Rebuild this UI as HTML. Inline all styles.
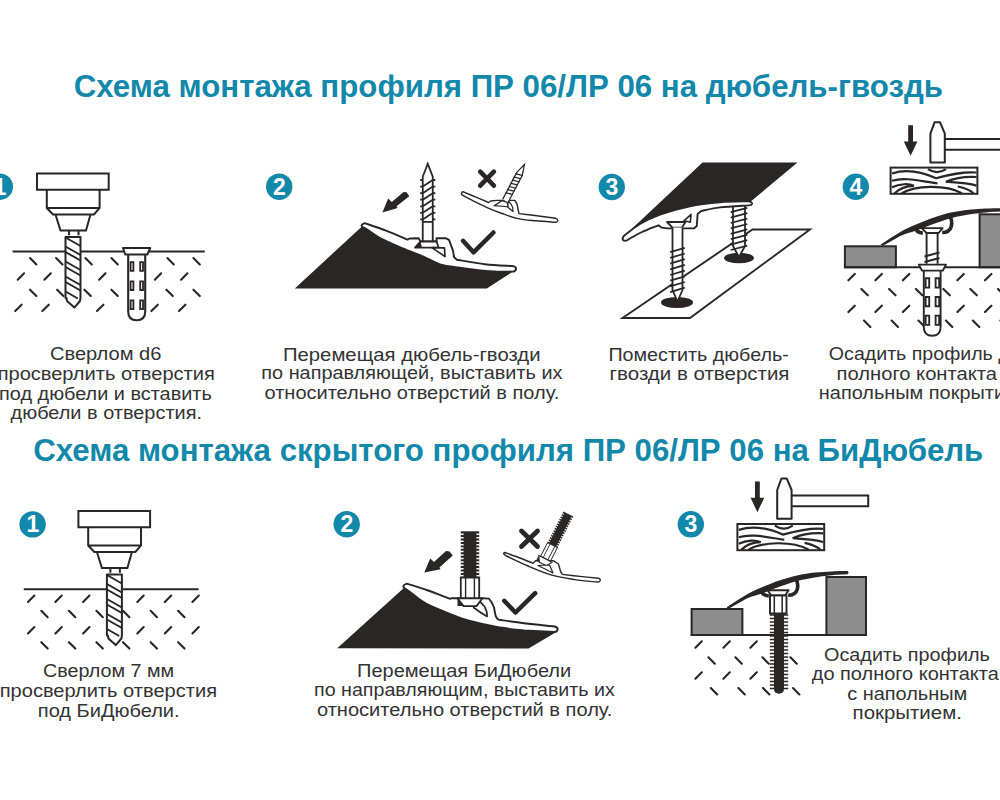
<!DOCTYPE html>
<html><head><meta charset="utf-8"><style>
html,body{margin:0;padding:0;background:#fff;width:1000px;height:800px;overflow:hidden}
svg{display:block;font-family:"Liberation Sans",sans-serif}
</style></head><body>
<svg width="1000" height="800" viewBox="0 0 1000 800">
<text x="73.67" y="97.4" textLength="869.31" lengthAdjust="spacingAndGlyphs" font-size="30.5" font-weight="bold" fill="#1288ab">Схема монтажа профиля ПР 06/ЛР 06 на дюбель-гвоздь</text>
<text x="33.17" y="460.6" textLength="950.12" lengthAdjust="spacingAndGlyphs" font-size="30.5" font-weight="bold" fill="#1288ab">Схема монтажа скрытого профиля ПР 06/ЛР 06 на БиДюбель</text>
<circle cx="-0.2" cy="186.7" r="13.2" fill="#1288ab"/>
<text x="0" y="194.6" text-anchor="middle" font-size="23" font-weight="bold" fill="#fff">1</text>
<circle cx="279.2" cy="186.7" r="13.2" fill="#1288ab"/>
<text x="279.4" y="194.6" text-anchor="middle" font-size="23" font-weight="bold" fill="#fff">2</text>
<circle cx="611.8" cy="187" r="13.2" fill="#1288ab"/>
<text x="612" y="194.9" text-anchor="middle" font-size="23" font-weight="bold" fill="#fff">3</text>
<circle cx="855.8" cy="186.75" r="13.2" fill="#1288ab"/>
<text x="856" y="194.65" text-anchor="middle" font-size="23" font-weight="bold" fill="#fff">4</text>
<circle cx="32.6" cy="524.4" r="13.2" fill="#1288ab"/>
<text x="32.8" y="532.3" text-anchor="middle" font-size="23" font-weight="bold" fill="#fff">1</text>
<circle cx="346.7" cy="524.2" r="13.2" fill="#1288ab"/>
<text x="346.9" y="532.1" text-anchor="middle" font-size="23" font-weight="bold" fill="#fff">2</text>
<circle cx="690.8" cy="524.3" r="13.2" fill="#1288ab"/>
<text x="691" y="532.2" text-anchor="middle" font-size="23" font-weight="bold" fill="#fff">3</text>
<text x="49.93" y="360.3" textLength="111.49" lengthAdjust="spacingAndGlyphs" font-size="18.7" fill="#333333">Сверлом d6</text>
<text x="-2.39" y="379.8" textLength="217.17" lengthAdjust="spacingAndGlyphs" font-size="18.7" fill="#333333">просверлить отверстия</text>
<text x="-0.98" y="399.5" textLength="212.78" lengthAdjust="spacingAndGlyphs" font-size="18.7" fill="#333333">под дюбели и вставить</text>
<text x="10.59" y="419.2" textLength="191.38" lengthAdjust="spacingAndGlyphs" font-size="18.7" fill="#333333">дюбели в отверстия.</text>
<text x="282.97" y="360.6" textLength="257.5" lengthAdjust="spacingAndGlyphs" font-size="18.7" fill="#333333">Перемещая дюбель-гвозди</text>
<text x="261.32" y="379.4" textLength="301.1" lengthAdjust="spacingAndGlyphs" font-size="18.7" fill="#333333">по направляющей, выставить их</text>
<text x="264.54" y="398.6" textLength="294.66" lengthAdjust="spacingAndGlyphs" font-size="18.7" fill="#333333">относительно отверстий в полу.</text>
<text x="608.42" y="361" textLength="180.48" lengthAdjust="spacingAndGlyphs" font-size="18.7" fill="#333333">Поместить дюбель-</text>
<text x="609.58" y="380" textLength="179.9" lengthAdjust="spacingAndGlyphs" font-size="18.7" fill="#333333">гвозди в отверстия</text>
<text x="828.86" y="360.4" textLength="191.7" lengthAdjust="spacingAndGlyphs" font-size="18.7" fill="#333333">Осадить профиль до</text>
<text x="836.6" y="379.8" textLength="176.05" lengthAdjust="spacingAndGlyphs" font-size="18.7" fill="#333333">полного контакта с</text>
<text x="818.82" y="399.2" textLength="210.98" lengthAdjust="spacingAndGlyphs" font-size="18.7" fill="#333333">напольным покрытием</text>
<text x="42.95" y="677" textLength="131.09" lengthAdjust="spacingAndGlyphs" font-size="18.7" fill="#333333">Сверлом 7 мм</text>
<text x="-0.29" y="696.8" textLength="217.27" lengthAdjust="spacingAndGlyphs" font-size="18.7" fill="#333333">просверлить отверстия</text>
<text x="37.81" y="716.6" textLength="141.77" lengthAdjust="spacingAndGlyphs" font-size="18.7" fill="#333333">под БиДюбели.</text>
<text x="356.99" y="676.6" textLength="214.25" lengthAdjust="spacingAndGlyphs" font-size="18.7" fill="#333333">Перемещая БиДюбели</text>
<text x="314.03" y="695.8" textLength="300.86" lengthAdjust="spacingAndGlyphs" font-size="18.7" fill="#333333">по направляющим, выставить их</text>
<text x="316.94" y="715.8" textLength="295.47" lengthAdjust="spacingAndGlyphs" font-size="18.7" fill="#333333">относительно отверстий в полу.</text>
<text x="824.05" y="661" textLength="165.76" lengthAdjust="spacingAndGlyphs" font-size="18.7" fill="#333333">Осадить профиль</text>
<text x="811.79" y="680" textLength="187.03" lengthAdjust="spacingAndGlyphs" font-size="18.7" fill="#333333">до полного контакта</text>
<text x="847.15" y="700" textLength="120.2" lengthAdjust="spacingAndGlyphs" font-size="18.7" fill="#333333">с напольным</text>
<text x="852.58" y="719" textLength="109.29" lengthAdjust="spacingAndGlyphs" font-size="18.7" fill="#333333">покрытием.</text>
<path d="M12.6 251.5L204.8 251.5" fill="none" stroke="#2a2625" stroke-width="2" stroke-linecap="butt" stroke-linejoin="miter"/>
<path d="M30 258L36.4 264.4M56.1 258L62.5 264.4M85.4 258L91.8 264.4M111.4 258L117.8 264.4M167.4 258L173.8 264.4M193.4 258L199.8 264.4M17.7 279.75L24.1 273.35M44.4 279.75L50.8 273.35M99.1 279.75L105.5 273.35M154.8 279.75L161.2 273.35M181.1 279.75L187.5 273.35M30 289.7L36.4 296.1M57.1 289.7L63.5 296.1M84.4 289.7L90.8 296.1M111.4 289.7L117.8 296.1M166.4 289.7L172.8 296.1M193.4 289.7L199.8 296.1M15.2 311.1L21.6 304.7M42.4 311.1L48.8 304.7M97 311.1L103.4 304.7M151.4 311.1L157.8 304.7M179 311.1L185.4 304.7" fill="none" stroke="#2a2625" stroke-width="2.1" stroke-linecap="round"/>
<path d="M37 173.5L108.7 173.5L108.7 189.7L37 189.7Z" fill="none" stroke="#2a2625" stroke-width="2" stroke-linecap="butt" stroke-linejoin="miter"/>
<path d="M46.8 189.7L46.8 208L53 214.5L94 214.5L99.6 208L99.6 189.7M46.8 208L99.6 208" fill="none" stroke="#2a2625" stroke-width="2" stroke-linecap="butt" stroke-linejoin="miter"/>
<path d="M55.5 214.5L60.5 230.5L86 230.5L90.5 214.5" fill="none" stroke="#2a2625" stroke-width="2" stroke-linecap="butt" stroke-linejoin="miter"/>
<path d="M69 230.5L69 235.2M78.5 230.5L78.5 235.2" fill="none" stroke="#2a2625" stroke-width="2" stroke-linecap="butt" stroke-linejoin="miter"/>
<path d="M65.5 237L80.5 237L80.5 298L80 301L74.4 307.6L67 301L66.5 298L65.5 298Z" fill="#fff" stroke="#2a2625" stroke-width="2" stroke-linejoin="round"/>
<path d="M65.5 237.5L80.5 246M65.5 246.5L80.5 255M65.5 252L80.5 260.5M65.5 261.5L80.5 270M65.5 267L80.5 275.5M65.5 276.5L80.5 285M65.5 282L80.5 290.5M65.5 291.5L77.85 298.5" fill="none" stroke="#2a2625" stroke-width="2.0" stroke-linecap="butt" stroke-linejoin="miter"/>
<path d="M128.2 254.5L128.2 311.5Q128.2 320.2 136.7 320.2Q145.2 320.2 145.2 311.5L145.2 254.5" fill="#fff" stroke="#2a2625" stroke-width="2.1"/>
<path d="M123 248L150.2 248L147.4 254.5L125.3 254.5Z" fill="#fff" stroke="#2a2625" stroke-width="2" stroke-linejoin="round"/>
<path d="M130.6 262.2L133.4 262.2L133.4 270.9L130.6 270.9ZM140.2 262.2L143 262.2L143 270.9L140.2 270.9ZM130.6 281.3L133.4 281.3L133.4 290L130.6 290ZM140.2 281.3L143 281.3L143 290L140.2 290ZM130.6 300.4L133.4 300.4L133.4 309.1L130.6 309.1ZM140.2 300.4L143 300.4L143 309.1L140.2 309.1Z" fill="none" stroke="#2a2625" stroke-width="1.8" stroke-linecap="butt" stroke-linejoin="miter"/>
<path d="M294.8 288.4L362.5 226L362.5 227C363.42 227.5 364.92 228.07 368 230C371.08 231.93 375.2 235.53 381 238.6C386.8 241.67 395.57 245.33 402.8 248.4C410.03 251.47 418.2 254.33 424.4 257C430.6 259.67 434.4 262.67 440 264.4C445.6 266.13 451.25 266.4 458 267.4C464.75 268.4 474.17 269.72 480.5 270.4C486.83 271.08 490.75 271.23 496 271.5C501.25 271.77 509.33 271.92 512 272L511.5 272.6L486.8 288.4Z" fill="#2a2625"/>
<path d="M364.5 223.1C368.08 224.35 378.82 227.85 386 230.6C393.18 233.35 404 238.1 407.6 239.6L409.6 238.5L418.6 238.3L420.4 241.5L436.6 241.5L436.6 238.3L445.4 238.1L449 239.9L453 250.7L454 257L456.7 259.7L456.7 259.7C461.42 260.45 475.78 263.15 485 264.2C494.22 265.25 507.5 265.7 512 266Q516.5 266.5 516 269Q515.5 271.8 512 271.6L496 271.5C493.42 271.32 486.83 271.08 480.5 270.4C474.17 269.72 464.75 268.4 458 267.4C451.25 266.4 445.6 266.13 440 264.4C434.4 262.67 430.6 259.67 424.4 257C418.2 254.33 410.03 251.47 402.8 248.4C395.57 245.33 386.8 241.67 381 238.6C375.2 235.53 371.08 231.93 368 230C364.92 228.07 363.42 227.5 362.5 227Q360 225 364.5 223.1Z" fill="#fff" stroke="#2a2625" stroke-width="1.9" stroke-linejoin="round"/>
<path d="M415 247.6L420.4 241.5L436.6 241.5L438.5 247.6Z" fill="#fff" stroke="#2a2625" stroke-width="1.8" stroke-linejoin="round"/>
<path d="M415 247.6L420.4 241.5L422 247.6Z" fill="#2a2625"/>
<path d="M431.8 247.6L444.4 247.8L445 256.5Q440 253 431.8 247.6Z" fill="#fff" stroke="#2a2625" stroke-width="1.7" stroke-linejoin="round"/>
<g transform="translate(427.75 163.75) rotate(0) scale(1)"><path d="M-5 13L0 0L5 13L5 77.5M-5 77.5L-5 13M-7.6 16.25L-5 16.25M5 16.25L7.6 16.25M-5 22.82L5 16.25M-7.6 22.82L-5 22.82M5 22.82L7.6 22.82M-5 29.39L5 22.82M-7.6 29.39L-5 29.39M5 29.39L7.6 29.39M-5 35.96L5 29.39M-7.6 35.96L-5 35.96M5 35.96L7.6 35.96M-5 42.53L5 35.96M-7.6 42.53L-5 42.53M5 42.53L7.6 42.53M-5 49.1L5 42.53M-7.6 49.1L-5 49.1M5 49.1L7.6 49.1M-5 55.67L5 49.1M-7.6 55.67L-5 55.67M5 55.67L7.6 55.67M-5 58.15L5 58.15" fill="none" stroke="#2a2625" stroke-width="1.8"/></g>
<path d="M406.5 192.2L409.3 196.2L396.5 206.3L397.6 207.9L382.4 212.6L388.1 198.6L391.8 202L403.6 191.9Z" fill="#2a2625"/>
<path d="M463 240.8L473.5 252.3L493.5 232.5" fill="none" stroke="#2a2625" stroke-width="4.5" stroke-linecap="round" stroke-linejoin="round"/>
<path d="M480.2 171.6L493.9 185.7M493.9 171.6L480.2 185.7" fill="none" stroke="#2a2625" stroke-width="4.6" stroke-linecap="round"/>
<path d="M463.4 191.9C465.5 192.78 471.8 195.43 476 197.2C480.2 198.97 486.5 201.62 488.6 202.5L490.7 201L497 200.4L514.9 200.4L517 204.1L519 213.6L519 213.6C522 213.97 530.87 215.02 537 215.8C543.13 216.58 552.67 217.88 555.8 218.3Q558.2 219.2 557.6 220.9Q557 222.4 554.8 222.2L554.8 222.2C551.67 221.97 542.13 221.4 536 220.8C529.87 220.2 523.67 219.82 518 218.6C512.33 217.38 507.25 215.38 502 213.5C496.75 211.62 491.17 209.33 486.5 207.3C481.83 205.27 477.93 203.28 474 201.3C470.07 199.32 464.75 196.38 462.9 195.4Q460.8 194 461.8 192.6Q462.5 191.5 463.4 191.9Z" fill="#fff" stroke="#2a2625" stroke-width="1.4" stroke-linejoin="round"/>
<path d="M508.6 201.2Q511.5 204.5 512.7 207.4L513 211.5L507.2 206.7Z" fill="#fff" stroke="#2a2625" stroke-width="1.2" stroke-linejoin="round"/>
<g transform="translate(524.4 164.5) rotate(27.6)"><path d="M-3.1 10.5L0 0L3.1 10.5L3.1 41L-3.1 41Z" fill="#fff"/><path d="M-3.1 10.5L0 0L3.1 10.5L3.1 41M-3.1 41L-3.1 10.5M-3.9 12.4L3.9 10.6M-3.9 15.95L3.9 14.15M-3.9 19.5L3.9 17.7M-3.9 23.05L3.9 21.25M-3.9 26.6L3.9 24.8M-3.9 30.15L3.9 28.35M-3.9 33.7L3.9 31.9" fill="none" stroke="#2a2625" stroke-width="1.25"/></g>
<path d="M494.1 205.7L502 200.6L507.2 202.3L508.2 206.75Z" fill="#fff" stroke="#2a2625" stroke-width="1.25" stroke-linejoin="round"/>
<path d="M622.5 318L690 318L810 229.5L752.5 229.5Z" fill="none" stroke="#2a2625" stroke-width="1.9" stroke-linejoin="miter"/>
<ellipse cx="677" cy="302.5" rx="16" ry="5.6" fill="#2a2625"/>
<ellipse cx="739" cy="258" rx="15" ry="5.3" fill="#2a2625"/>
<path d="M733 203L733 246L739 257L745 246L745 203" fill="#fff" stroke="#2a2625" stroke-width="1.8" stroke-linejoin="round"/>
<path d="M730.7 212.2L747.3 207.8M730.7 217.6L747.3 213.2M730.7 223L747.3 218.6M730.7 228.4L747.3 224M730.7 233.8L747.3 229.4M730.7 239.2L747.3 234.8M730.7 244.6L747.3 240.2M730.7 250L747.3 245.6" fill="none" stroke="#2a2625" stroke-width="1.8"/>
<path d="M702.5 162.5L797.5 162.5L749.5 202.5L749 201.3C744.17 201.47 729.83 201.48 720 202.3C710.17 203.12 700 204.15 690 206.2C680 208.25 668.33 211.63 660 214.6C651.67 217.57 645.67 220.72 640 224C634.33 227.28 628.33 232.58 626 234.3Z" fill="#2a2625"/>
<path d="M626 234.3C628.33 232.58 634.33 227.28 640 224C645.67 220.72 651.67 217.57 660 214.6C668.33 211.63 680 208.25 690 206.2C700 204.15 710.17 203.12 720 202.3C729.83 201.48 744.17 201.47 749 201.3Q752.5 202.3 752 204Q751.5 205.5 748.5 205.4L748.5 205.4C743.75 205.73 727.87 206.47 720 207.4C712.13 208.33 704.42 210.4 701.3 211L697.6 214L696.8 226L693.8 228.4L667.5 228.4L661.5 227.6L658.5 225.3L658.5 225.3C655.58 226.5 646.25 230 641 232.5C635.75 235 629.33 239 627 240.3Q623 241.5 622.6 239Q622.5 236.5 626 234.3Z" fill="#fff" stroke="#2a2625" stroke-width="1.9" stroke-linejoin="round"/>
<path d="M684 220.8L691 214.3L690.3 222.3Z" fill="#fff" stroke="#2a2625" stroke-width="1.6" stroke-linejoin="round"/>
<path d="M667 222L685.5 222L682 227.6L672.5 227.6Z" fill="#fff" stroke="#2a2625" stroke-width="1.8" stroke-linejoin="round"/>
<path d="M672.5 227.6L672.5 290L677.5 301.5L682.5 290L682.5 227.6" fill="#fff" stroke="#2a2625" stroke-width="1.8" stroke-linejoin="round"/>
<path d="M670.2 252.2L684.8 247.8M670.2 257.9L684.8 253.5M670.2 263.6L684.8 259.2M670.2 269.3L684.8 264.9M670.2 275L684.8 270.6M670.2 280.7L684.8 276.3M670.2 286.4L684.8 282M670.2 292.1L684.8 287.7" fill="none" stroke="#2a2625" stroke-width="1.8"/>
<g transform="translate(0 0)"><path d="M908.2 125.2L913 125.2L913 141.4L917.4 141.4L910.6 155.8L903.8 141.4L908.2 141.4Z" fill="#2a2625"/><path d="M944.8 139L1010 139L1010 149.8L944.8 149.8" fill="#fff" stroke="#2a2625" stroke-width="2"/><path d="M930.4 162.4L930.4 133.6L934.6 122.2L940 122.2L944.8 133.6L944.8 162.4Z" fill="#fff" stroke="#2a2625" stroke-width="2" stroke-linejoin="round"/><rect x="890.6" y="167.6" width="86.8" height="26.2" fill="#fff" stroke="#2a2625" stroke-width="2"/><path d="M892 173.5C903 169.8 918 170.2 936 178.2C949 174.8 963 171.2 976.5 172.5M928 169.2Q937 175.2 946 169.2M892 180.8C905 176.8 920 181 937.5 183.3M945.8 181.8C955 178 967 176.3 976.5 177M945.8 181.8C957 182.5 968 183 976.5 185.6M892 187.3C900 183.5 909 183.5 914 185.8M894.5 193.2C900 188 907 186 914 185.8M901.5 193.5C915 185.2 945 184.2 962 193.2M957.8 186.5C965 188 970 190 973.5 193.2" fill="none" stroke="#2a2625" stroke-width="2.2"/></g>
<g transform="translate(-153.2 356.4)"><path d="M908.2 125.2L913 125.2L913 141.4L917.4 141.4L910.6 155.8L903.8 141.4L908.2 141.4Z" fill="#2a2625"/><path d="M944.8 139L1021.4 139L1021.4 149.8L944.8 149.8" fill="#fff" stroke="#2a2625" stroke-width="2"/><path d="M930.4 162.4L930.4 133.6L934.6 122.2L940 122.2L944.8 133.6L944.8 162.4Z" fill="#fff" stroke="#2a2625" stroke-width="2" stroke-linejoin="round"/><rect x="890.6" y="167.6" width="86.8" height="26.2" fill="#fff" stroke="#2a2625" stroke-width="2"/><path d="M892 173.5C903 169.8 918 170.2 936 178.2C949 174.8 963 171.2 976.5 172.5M928 169.2Q937 175.2 946 169.2M892 180.8C905 176.8 920 181 937.5 183.3M945.8 181.8C955 178 967 176.3 976.5 177M945.8 181.8C957 182.5 968 183 976.5 185.6M892 187.3C900 183.5 909 183.5 914 185.8M894.5 193.2C900 188 907 186 914 185.8M901.5 193.5C915 185.2 945 184.2 962 193.2M957.8 186.5C965 188 970 190 973.5 193.2" fill="none" stroke="#2a2625" stroke-width="2.2"/></g>
<path d="M848.4 280.3L854.8 273.9M875.4 280.3L881.8 273.9M902.9 280.3L909.3 273.9M957.4 280.3L963.8 273.9M985 280.3L991.4 273.9M861.4 288.95L867.8 295.35M889.1 288.95L895.5 295.35M915.9 288.95L922.3 295.35M943.4 288.95L949.8 295.35M970.4 288.95L976.8 295.35M998 288.95L1004.4 295.35M848.4 312.1L854.8 305.7M875.4 312.1L881.8 305.7M902.9 312.1L909.3 305.7M957.4 312.1L963.8 305.7M985 312.1L991.4 305.7M864 320.55L870.4 326.95M891.6 320.55L898 326.95M918.4 320.55L924.8 326.95M945.9 320.55L952.3 326.95M972.9 320.55L979.3 326.95M1000.4 320.55L1006.8 326.95" fill="none" stroke="#2a2625" stroke-width="2.1" stroke-linecap="round"/>
<rect x="844.9" y="246.3" width="51" height="21" fill="#8d8d8d" stroke="#2a2625" stroke-width="2"/>
<rect x="979.6" y="214.3" width="30" height="53" fill="#8d8d8d" stroke="#2a2625" stroke-width="2"/>
<path d="M844 267.2L1000 267.2" fill="none" stroke="#2a2625" stroke-width="2" stroke-linecap="butt" stroke-linejoin="miter"/>
<g transform="translate(154 -362.8)"><path d="M727 607C730.5 604.8 742.17 597.1 748 593.8C753.83 590.5 756.67 589.47 762 587.2C767.33 584.93 774.17 582.17 780 580.2C785.83 578.23 791.17 576.67 797 575.4C802.83 574.13 809.17 573.27 815 572.6C820.83 571.93 826.58 571.65 832 571.4C837.42 571.15 844.92 571.15 847.5 571.1Q849.5 572.7 847.5 574.3L847.5 574.3C844.92 574.45 836.92 574.77 832 575.2C827.08 575.63 823.83 575.93 818 576.9C812.17 577.87 804 579.15 797 581C790 582.85 781.83 585.92 776 588C770.17 590.08 766.67 591.83 762 593.5C757.33 595.17 753.42 595.53 748 598C742.58 600.47 732.58 606.58 729.5 608.3Q726 608.5 727 607Z" fill="#2a2625"/><path d="M760.8 589.5Q762 595.5 768.8 595.9M795 577.5Q799 583 797.2 589.5Q795.5 595.2 788.2 595.3" fill="none" stroke="#2a2625" stroke-width="3.6"/></g>
<path d="M926.6 232.5L926.6 263.7M937.6 232.5L937.6 263.7" fill="none" stroke="#2a2625" stroke-width="1.9"/>
<path d="M924.5 256.5L939.5 252.5M924.5 262L939.5 258" fill="none" stroke="#2a2625" stroke-width="1.9"/>
<path d="M921.6 228.1L942.6 228.1L938.6 233L926.6 233Z" fill="#fff" stroke="#2a2625" stroke-width="1.9" stroke-linejoin="round"/>
<path d="M923.8 270.5L923.8 327Q923.8 335.8 932.2 335.8Q940.6 335.8 940.6 327L940.6 270.5" fill="#fff" stroke="#2a2625" stroke-width="1.9"/>
<path d="M918.8 264.6L946 264.6L942.8 270.6L922 270.6Z" fill="#fff" stroke="#2a2625" stroke-width="1.9" stroke-linejoin="round"/>
<path d="M925.6 278.3L929.2 278.3L929.2 287.6L925.6 287.6ZM935.6 278.3L939.2 278.3L939.2 287.6L935.6 287.6ZM925.6 297L929.2 297L929.2 306.3L925.6 306.3ZM935.6 297L939.2 297L939.2 306.3L935.6 306.3ZM925.6 315.6L929.2 315.6L929.2 324.90000000000003L925.6 324.90000000000003ZM935.6 315.6L939.2 315.6L939.2 324.90000000000003L935.6 324.90000000000003Z" fill="none" stroke="#2a2625" stroke-width="1.9"/>
<path d="M695.4 647.7L701.8 641.3M723.4 647.7L729.8 641.3M750.4 647.7L756.8 641.3M708.4 657.3L714.8 663.7M735.4 657.3L741.8 663.7M762.4 657.3L768.8 663.7M790.4 657.3L796.8 663.7M695.4 678.7L701.8 672.3M723.4 678.7L729.8 672.3M750.4 678.7L756.8 672.3M710.8 688L717.2 694.4M738.4 688L744.8 694.4M763 688L769.4 694.4M793 688L799.4 694.4" fill="none" stroke="#2a2625" stroke-width="2.1" stroke-linecap="round"/>
<rect x="691.6" y="609" width="50.8" height="26" fill="#8d8d8d" stroke="#2a2625" stroke-width="2"/>
<rect x="826.4" y="577" width="39.6" height="58" fill="#8d8d8d" stroke="#2a2625" stroke-width="2"/>
<path d="M690.6 635L867 635" fill="none" stroke="#2a2625" stroke-width="2" stroke-linecap="butt" stroke-linejoin="miter"/>
<g transform="translate(0 0)"><path d="M727 607C730.5 604.8 742.17 597.1 748 593.8C753.83 590.5 756.67 589.47 762 587.2C767.33 584.93 774.17 582.17 780 580.2C785.83 578.23 791.17 576.67 797 575.4C802.83 574.13 809.17 573.27 815 572.6C820.83 571.93 826.58 571.65 832 571.4C837.42 571.15 844.92 571.15 847.5 571.1Q849.5 572.7 847.5 574.3L847.5 574.3C844.92 574.45 836.92 574.77 832 575.2C827.08 575.63 823.83 575.93 818 576.9C812.17 577.87 804 579.15 797 581C790 582.85 781.83 585.92 776 588C770.17 590.08 766.67 591.83 762 593.5C757.33 595.17 753.42 595.53 748 598C742.58 600.47 732.58 606.58 729.5 608.3Q726 608.5 727 607Z" fill="#2a2625"/><path d="M760.8 589.5Q762 595.5 768.8 595.9M795 577.5Q799 583 797.2 589.5Q795.5 595.2 788.2 595.3" fill="none" stroke="#2a2625" stroke-width="3.6"/></g>
<path d="M769.8 615L788.2 615M769.8 618.5L788.2 618.5M769.8 622L788.2 622M769.8 625.5L788.2 625.5M769.8 629L788.2 629M769.8 632.5L788.2 632.5M769.8 636L788.2 636M769.8 639.5L788.2 639.5M769.8 643L788.2 643M769.8 646.5L788.2 646.5M769.8 650L788.2 650M769.8 653.5L788.2 653.5M769.8 657L788.2 657M769.8 660.5L788.2 660.5M769.8 664L788.2 664M769.8 667.5L788.2 667.5M769.8 671L788.2 671M769.8 674.5L788.2 674.5M769.8 678L788.2 678M769.8 681.5L788.2 681.5M769.8 685L788.2 685M769.8 688.5L788.2 688.5" fill="none" stroke="#2a2625" stroke-width="1.6"/>
<path d="M774 612L784 612L784 688.6Q784 693.8 779 693.8Q774 693.8 774 688.6Z" fill="#2a2625"/>
<path d="M770 595.3L786.5 595.3L786.5 613.5L770 613.5Z" fill="#fff" stroke="#2a2625" stroke-width="1.9"/>
<path d="M774.3 595.3L774.3 613.5M782.2 595.3L782.2 613.5" fill="none" stroke="#2a2625" stroke-width="1.5"/>
<path d="M767.6 590.2L788.6 590.2L785.1 595.3L771.1 595.3Z" fill="#fff" stroke="#2a2625" stroke-width="1.9" stroke-linejoin="round"/>
<path d="M23.8 589.3L198.6 589.3" fill="none" stroke="#2a2625" stroke-width="2" stroke-linecap="butt" stroke-linejoin="miter"/>
<path d="M28 602L34.4 595.6M55.4 602L61.8 595.6M83.1 602L89.5 595.6M137.3 602L143.7 595.6M164.8 602L171.2 595.6M192.4 602L198.8 595.6M41.3 610.8L47.7 617.2M68.9 610.8L75.3 617.2M96.4 610.8L102.8 617.2M123 610.8L129.4 617.2M150.6 610.8L157 617.2M178.1 610.8L184.5 617.2M28 633.4L34.4 627M55.4 633.4L61.8 627M83.1 633.4L89.5 627M137.3 633.4L143.7 627M164.8 633.4L171.2 627M192.4 633.4L198.8 627M41.3 642.15L47.7 648.55M68.9 642.15L75.3 648.55M96.4 642.15L102.8 648.55M123 642.15L129.4 648.55M150.6 642.15L157 648.55M178.1 642.15L184.5 648.55" fill="none" stroke="#2a2625" stroke-width="2.1" stroke-linecap="round"/>
<path d="M78.4 511L150.1 511L150.1 527.2L78.4 527.2Z" fill="none" stroke="#2a2625" stroke-width="2" stroke-linecap="butt" stroke-linejoin="miter"/>
<path d="M88.2 527.2L88.2 545.5L94.4 552L135.4 552L141 545.5L141 527.2M88.2 545.5L141 545.5" fill="none" stroke="#2a2625" stroke-width="2" stroke-linecap="butt" stroke-linejoin="miter"/>
<path d="M96.9 552L101.9 568L127.4 568L131.9 552" fill="none" stroke="#2a2625" stroke-width="2" stroke-linecap="butt" stroke-linejoin="miter"/>
<path d="M110.4 568L110.4 572.7M119.9 568L119.9 572.7" fill="none" stroke="#2a2625" stroke-width="2" stroke-linecap="butt" stroke-linejoin="miter"/>
<path d="M106.9 574.5L121.9 574.5L121.9 635.5L121.4 638.5L115.8 645.1L108.4 638.5L107.9 635.5L106.9 635.5Z" fill="#fff" stroke="#2a2625" stroke-width="2" stroke-linejoin="round"/>
<path d="M106.9 575L121.9 583.5M106.9 584L121.9 592.5M106.9 589.5L121.9 598M106.9 599L121.9 607.5M106.9 604.5L121.9 613M106.9 614L121.9 622.5M106.9 619.5L121.9 628M106.9 629L119.25 636" fill="none" stroke="#2a2625" stroke-width="2.0" stroke-linecap="butt" stroke-linejoin="miter"/>
<path d="M337.2 648.2L404.4 587.5L404.4 588C405.33 588.67 406.4 589.4 410 592C413.6 594.6 418.53 599.63 426 603.6C433.47 607.57 447.47 612.9 454.8 615.8C462.13 618.7 462.97 619.13 470 621C477.03 622.87 488 625.42 497 627C506 628.58 514.4 629.67 524 630.5C533.6 631.33 549.5 631.75 554.6 632L555.5 632.5L528.5 648.5L337.2 648.2Z" fill="#2a2625"/>
<path d="M406.8 583.6C410.33 584.75 420.8 587.97 428 590.5C435.2 593.03 446.33 597.42 450 598.8L451.2 598.3L463 598.3L483 598.3L488.9 598.6Q492.5 602.5 494 607.5Q495 613 495.7 616.1Q496.5 618.8 498.8 619.7L498.8 619.7C503 620.3 514.7 622.17 524 623.3C533.3 624.43 549.5 625.97 554.6 626.5Q558.2 627.5 557.6 629.8Q557 632 554.6 632L524 630.5C519.5 629.92 506 628.58 497 627C488 625.42 477.03 622.87 470 621C462.97 619.13 462.13 618.7 454.8 615.8C447.47 612.9 433.47 607.57 426 603.6C418.53 599.63 413.6 594.6 410 592C406.4 589.4 405.33 588.67 404.4 588Q401.5 585.5 406.8 583.6Z" fill="#fff" stroke="#2a2625" stroke-width="1.9" stroke-linejoin="round"/>
<path d="M476.3 603L480 601.7Q485 606 486.5 611Q487.2 614 487.1 616.5Q480 612.5 473.6 607.5Z" fill="#fff" stroke="#2a2625" stroke-width="1.7" stroke-linejoin="round"/>
<g transform="translate(470 598.3) rotate(0) scale(1 1)"><rect x="-9.2" y="-67" width="18.4" height="47" fill="#2a2625"/><path d="M-9.5 -64L-6.4 -64M6.4 -64L9.5 -64M-9.5 -60.55L-6.4 -60.55M6.4 -60.55L9.5 -60.55M-9.5 -57.1L-6.4 -57.1M6.4 -57.1L9.5 -57.1M-9.5 -53.65L-6.4 -53.65M6.4 -53.65L9.5 -53.65M-9.5 -50.2L-6.4 -50.2M6.4 -50.2L9.5 -50.2M-9.5 -46.75L-6.4 -46.75M6.4 -46.75L9.5 -46.75M-9.5 -43.3L-6.4 -43.3M6.4 -43.3L9.5 -43.3M-9.5 -39.85L-6.4 -39.85M6.4 -39.85L9.5 -39.85M-9.5 -36.4L-6.4 -36.4M6.4 -36.4L9.5 -36.4M-9.5 -32.95L-6.4 -32.95M6.4 -32.95L9.5 -32.95M-9.5 -29.5L-6.4 -29.5M6.4 -29.5L9.5 -29.5M-9.5 -26.05L-6.4 -26.05M6.4 -26.05L9.5 -26.05M-9.5 -22.6L-6.4 -22.6M6.4 -22.6L9.5 -22.6" fill="none" stroke="#fff" stroke-width="1.5"/><path d="M-9.2 -20.6L9.2 -20.6L9.2 0L-9.2 0Z" fill="#fff" stroke="#2a2625" stroke-width="1.8"/><path d="M-4.4 -20.6L-4.4 0M4.4 -20.6L4.4 0" fill="none" stroke="#2a2625" stroke-width="1.4"/><path d="M-12.5 0L12.5 0L6.5 7.8L-6.5 7.8Z" fill="#fff" stroke="#2a2625" stroke-width="1.8" stroke-linejoin="round"/><path d="M-12.5 0L-6.5 7.8L-12.5 7.8Z" fill="#2a2625"/></g>
<path d="M449.5 551.5L452.8 555.5L439.4 567.5L440.6 569.2L424.3 572.6L430.2 558.6L434 562L446 551Z" fill="#2a2625"/>
<path d="M504.2 600.8L515.5 612.5L535.2 593.2" fill="none" stroke="#2a2625" stroke-width="4.5" stroke-linecap="round" stroke-linejoin="round"/>
<path d="M521.5 531L537.5 546.5M537.5 531L521.5 546.5" fill="none" stroke="#2a2625" stroke-width="4.8" stroke-linecap="round"/>
<path d="M504.8 552.5C507.33 553.42 515.3 556.22 520 558C524.7 559.78 530.83 562.33 533 563.2L535.5 560.8L553.6 560.8L558.4 564L560.8 572L562.4 574.4L562.4 574.4C565.33 574.73 574 575.77 580 576.4C586 577.03 595.33 577.9 598.4 578.2Q601.2 579.3 599.8 581.2Q598.8 582.2 597 582L597 582C593.33 581.6 582.5 580.73 575 579.6C567.5 578.47 559.83 577.47 552 575.2C544.17 572.93 535.73 569.28 528 566C520.27 562.72 509.33 557.25 505.6 555.5Q502.3 553.6 504.8 552.5Z" fill="#fff" stroke="#2a2625" stroke-width="1.4" stroke-linejoin="round"/>
<g transform="translate(545.5 558.8) rotate(27) scale(0.6 0.75)"><rect x="-9.2" y="-67" width="18.4" height="47" fill="#2a2625"/><path d="M-9.5 -64L-6.4 -64M6.4 -64L9.5 -64M-9.5 -60.55L-6.4 -60.55M6.4 -60.55L9.5 -60.55M-9.5 -57.1L-6.4 -57.1M6.4 -57.1L9.5 -57.1M-9.5 -53.65L-6.4 -53.65M6.4 -53.65L9.5 -53.65M-9.5 -50.2L-6.4 -50.2M6.4 -50.2L9.5 -50.2M-9.5 -46.75L-6.4 -46.75M6.4 -46.75L9.5 -46.75M-9.5 -43.3L-6.4 -43.3M6.4 -43.3L9.5 -43.3M-9.5 -39.85L-6.4 -39.85M6.4 -39.85L9.5 -39.85M-9.5 -36.4L-6.4 -36.4M6.4 -36.4L9.5 -36.4M-9.5 -32.95L-6.4 -32.95M6.4 -32.95L9.5 -32.95M-9.5 -29.5L-6.4 -29.5M6.4 -29.5L9.5 -29.5M-9.5 -26.05L-6.4 -26.05M6.4 -26.05L9.5 -26.05M-9.5 -22.6L-6.4 -22.6M6.4 -22.6L9.5 -22.6" fill="none" stroke="#fff" stroke-width="1.5"/><path d="M-9.2 -20.6L9.2 -20.6L9.2 0L-9.2 0Z" fill="#fff" stroke="#2a2625" stroke-width="1.5"/><path d="M-4.4 -20.6L-4.4 0M4.4 -20.6L4.4 0" fill="none" stroke="#2a2625" stroke-width="1.4"/><path d="M-12.5 0L12.5 0L6.5 7.8L-6.5 7.8Z" fill="#fff" stroke="#2a2625" stroke-width="1.5" stroke-linejoin="round"/><path d="M-12.5 0L-6.5 7.8L-12.5 7.8Z" fill="#2a2625"/></g>
<path d="M538 565.5L549.5 565L553 573Z" fill="#fff" stroke="#2a2625" stroke-width="1.2" stroke-linejoin="round"/>
</svg>
</body></html>
